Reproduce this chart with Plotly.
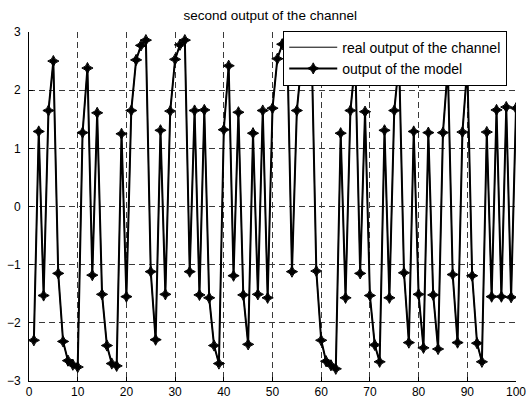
import plotly.graph_objects as go

samples = list(range(1, 101))
model_output = [
    -2.30, 1.29, -1.53, 1.65, 2.50, -1.15, -2.32, -2.65, -2.72, -2.76,
    1.27, 2.38, -1.18, 1.61, -1.51, -2.39, -2.70, -2.74, 1.25, -1.55,
    1.65, 2.52, 2.77, 2.86, -1.12, -2.29, 1.31, -1.51, 1.64, 2.53,
    2.78, 2.86, -1.12, 1.65, -1.52, 1.66, -1.57, -2.39, -2.70, 1.32,
    2.42, -1.19, 1.62, -1.52, -2.37, 1.26, -1.51, 1.65, -1.57, 1.69,
    2.54, 2.79, 2.86, -1.12, 1.65, 2.52, 2.77, 2.86, -1.11, -2.30,
    -2.66, -2.73, -2.79, 1.26, -1.57, 1.65, 2.50, -1.15, 1.63, -1.53,
    -2.38, -2.67, 1.31, -1.57, 1.65, 2.50, -1.14, -2.34, 1.29, -1.51,
    -2.43, 1.27, -1.52, -2.45, 1.27, 2.40, -1.17, -2.34, 1.28, 2.40,
    -1.19, -2.35, -2.67, 1.28, -1.55, 1.66, -1.55, 1.71, -1.56, 1.69,
]
real_output = list(model_output)

x_ticks = [0, 10, 20, 30, 40, 50, 60, 70, 80, 90, 100]
y_ticks = [-3, -2, -1, 0, 1, 2, 3]

FONT = "Liberation Sans, Arial, sans-serif"

fig = go.Figure()
fig.add_trace(go.Scatter(
    x=samples, y=real_output, mode="lines", name="real output of the channel",
    line=dict(color="black", width=1),
))
fig.add_trace(go.Scatter(
    x=samples, y=model_output, mode="lines+markers", name="output of the model",
    line=dict(color="black", width=2),
    marker=dict(symbol="star-diamond", size=8, color="black",
                line=dict(color="black", width=1)),
))

axis_common = dict(
    showgrid=True, gridcolor="#3a3a3a", griddash="6px,4px", gridwidth=1,
    zeroline=False, showline=True, linecolor="black", linewidth=1,
    ticks="inside", ticklen=4, tickcolor="black", automargin=False,
    tickfont=dict(family=FONT, size=12, color="black"),
)

fig.update_layout(
    width=532, height=399,
    margin=dict(l=29, r=16, t=32, b=18),
    paper_bgcolor="white", plot_bgcolor="white",
    font=dict(family=FONT, size=12, color="black"),
    title=dict(text="second output of the channel", x=0.508, xanchor="center",
               y=0.962, yanchor="middle", automargin=False,
               font=dict(family=FONT, size=13.5, color="black")),
    xaxis=dict(range=[0, 100], tickvals=x_ticks, ticklabelstandoff=0, **axis_common),
    yaxis=dict(range=[-3, 3], tickvals=y_ticks, ticklabelstandoff=5, **axis_common),
    legend=dict(x=0.982, xanchor="right", y=1.004, yanchor="top",
                bgcolor="white", bordercolor="black", borderwidth=1,
                font=dict(family=FONT, size=14, color="black"),
                itemwidth=48, tracegroupgap=0),
    showlegend=True,
)

fig.write_html(
    "out.html",
    config={"displayModeBar": False},
    post_script="document.body.style.margin='0';document.body.style.overflow='hidden';",
)
